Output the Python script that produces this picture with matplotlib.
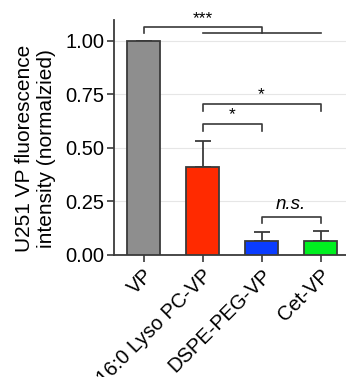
import matplotlib
matplotlib.use("Agg")
import matplotlib.pyplot as plt

categories = ["VP", "16:0 Lyso PC-VP", "DSPE-PEG-VP", "Cet-VP"]
values = [1.00, 0.41, 0.062, 0.064]
errors = [0.0, 0.12, 0.043, 0.045]
colors = ["#8e8e8e", "#ff2a00", "#0a3cff", "#00f020"]
yticks = [0.00, 0.25, 0.50, 0.75, 1.00]

plt.rcParams['font.family'] = ['Liberation Sans', 'DejaVu Sans']
fig = plt.figure(figsize=(3.46, 3.77), dpi=100)
ax = fig.add_axes([114/346, 1 - 254.7/377, (346-114)/346, (254.7-20)/377])

x = list(range(len(categories)))
edge = "#3a3a3a"
ax.bar(x, values, width=0.55, color=colors, edgecolor=edge, linewidth=1.3, zorder=3)
ax.errorbar(x, values, yerr=[[0]*4, errors], fmt='none', ecolor=edge,
            elinewidth=1.3, capsize=6, capthick=1.3, zorder=2)

ax.set_xlim(-0.5, 3.43)
ax.set_ylim(0, 1.097)
ax.set_yticks(yticks)
ax.set_yticklabels([f"{v:.2f}" for v in yticks], fontsize=14.5)
ax.set_xticks(x)
ax.set_xticklabels(categories, rotation=45, ha='right', rotation_mode='anchor', fontsize=14.5)
ax.tick_params(axis='both', direction='out', length=5, width=1.2, color=edge, pad=2)
ax.tick_params(axis='x', pad=3)
for s in ['top', 'right']:
    ax.spines[s].set_visible(False)
for s in ['left', 'bottom']:
    ax.spines[s].set_color(edge)
    ax.spines[s].set_linewidth(1.3)
ax.grid(axis='y', color='#e6e6e6', linewidth=0.8, zorder=0)
ax.set_axisbelow(True)
ax.set_ylabel("U251 VP fluorescence\nintensity (normalzied)", fontsize=15)
ax.yaxis.set_label_coords(-0.25, 0.452)

lw = 1.2
def bracket(x1, x2, y, h):
    ax.plot([x1, x1, x2, x2], [y - h, y, y, y - h], color=edge, lw=lw, clip_on=False)

# *** bracket: VP vs group
bracket(0, 2, 1.065, 0.03)
ax.plot([1, 3], [1.035, 1.035], color=edge, lw=lw, clip_on=False)
ax.text(1, 1.07, "***", ha='center', va='bottom', fontsize=12.5, clip_on=False)
# * brackets
bracket(1, 3, 0.704, 0.033)
ax.text(2, 0.715, "*", ha='center', va='bottom', fontsize=12.5)
bracket(1, 2, 0.61, 0.03)
ax.text(1.5, 0.62, "*", ha='center', va='bottom', fontsize=12.5)
# n.s.
bracket(2, 3, 0.178, 0.028)
ax.text(2.5, 0.195, "n.s.", ha='center', va='bottom', fontsize=13.5, style='italic')

fig.savefig("out.png", dpi=100)
